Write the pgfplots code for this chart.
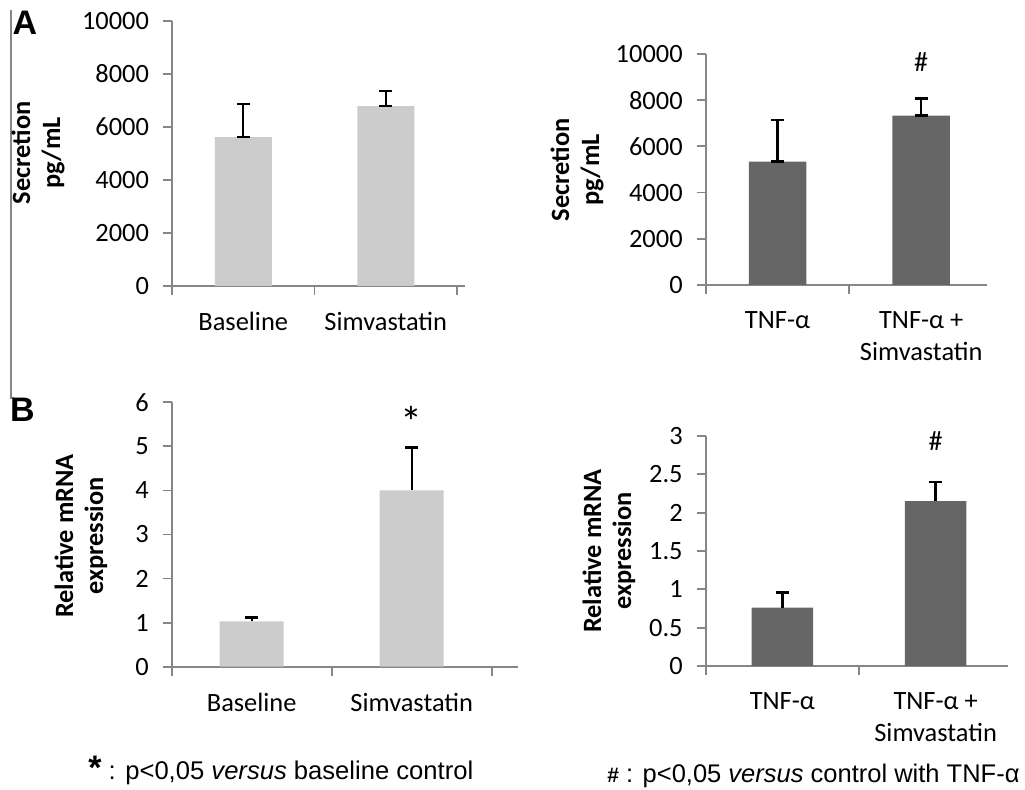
\documentclass[border=0pt]{standalone}
\usepackage{pgfplots}
\pgfplotsset{compat=1.18}
\usepackage{fontspec}
\setmainfont{Carlito}
\newfontfamily\arialfont{Liberation Sans}
\definecolor{axisgray}{HTML}{868686}
\definecolor{lightbar}{HTML}{CCCCCC}
\definecolor{darkbar}{HTML}{666666}
\pgfplotsset{
  panel/.style={
    scale only axis, anchor=south west, clip=false,
    axis x line*=bottom, axis y line*=left,
    axis line style={draw=axisgray, line width=0.9pt},
    xmin=-0.5, ymin=0,
    xtick={0,1}, minor xtick={-0.5,0.5,1.5},
    tick align=outside,
    major tick length=4.5pt, minor tick length=4.5pt,
    xtick style={draw=none},
    ytick style={draw=axisgray, line width=0.9pt},
    minor x tick style={draw=axisgray, line width=0.9pt},
    ticklabel style={font=\fontsize{13.2}{16}\selectfont},
    xticklabel style={align=center, yshift=-5pt},
    yticklabel style={xshift=-3.5pt},
    scaled y ticks=false,
    /pgf/number format/1000 sep={},
    /pgf/number format/assume math mode=true,
  },
  ebars/.style={
    error bars/.cd, y explicit,
    error bar style={line width=1.2pt, black},
    error mark=-,
    error mark options={rotate=90, mark size=3.2pt, line width=1.2pt, black},
  },
}
\begin{document}
\begin{tikzpicture}
\useasboundingbox (0,0) rectangle (512.5pt,-395pt);
% left framing line
\draw[axisgray, line width=0.6pt] (5.5pt,-5pt) -- (5.5pt,-199pt) -- (7pt,-199pt);
% panel letters
\node[font=\arialfont\bfseries\fontsize{17}{19}\selectfont] at (12.5pt,-11.5pt) {A};
\node[font=\arialfont\bfseries\fontsize{17}{19}\selectfont] at (11.2pt,-205pt) {B};

% ---------- A left
\begin{axis}[panel, at={(86pt,-143pt)}, width=146.5pt, height=132.5pt,
  xmax=1.556, ymax=10000, ytick={0,2000,4000,6000,8000,10000},
  xticklabels={Baseline,Simvastatin}]
\addplot[ybar, bar width=0.4, fill=lightbar, draw=none, ebars, y dir=both]
  table[x=x, y=y, y error plus=ep, y error minus=em] {
x y ep em
0 5620 1245 0
1 6790 566 0
};
\end{axis}
\node[rotate=90, align=center, font=\bfseries\fontsize{13.2}{15}\selectfont] at (19pt,-76.5pt) {Secretion\\pg/mL};

% ---------- A right
\begin{axis}[panel, at={(352.85pt,-142.5pt)}, width=140.65pt, height=115.5pt,
  xmax=1.458, ymax=10000, ytick={0,2000,4000,6000,8000,10000},
  xticklabels={TNF-α,TNF-α +\\Simvastatin}]
\addplot[ybar, bar width=0.4, fill=darkbar, draw=none, ebars, y dir=both]
  table[x=x, y=y, y error plus=ep, y error minus=em] {
x y ep em
0 5340 1805 0
1 7330 736 0
};
\node[font=\fontsize{14}{16}\selectfont] at (axis cs:1,9667) {\#};
\end{axis}
\node[rotate=90, align=center, font=\bfseries\fontsize{13.2}{15}\selectfont] at (288.5pt,-85pt) {Secretion\\pg/mL};

% ---------- B left
\begin{axis}[panel, at={(85.85pt,-333.35pt)}, width=173.3pt, height=132.2pt,
  xmax=1.666, ymax=6, ytick={0,1,2,3,4,5,6},
  xticklabels={Baseline,Simvastatin}]
\addplot[ybar, bar width=0.4, fill=lightbar, draw=none, ebars, y dir=plus]
  table[x=x, y=y, y error plus=ep] {
x y ep
0 1.03 0.09
1 4.00 0.97
};
\node[font=\fontsize{22}{24}\selectfont] at (axis cs:1,5.55) {*};
\end{axis}
\node[rotate=90, align=center, font=\bfseries\fontsize{13.2}{15}\selectfont] at (40.5pt,-268pt) {Relative mRNA\\expression};

% ---------- B right
\begin{axis}[panel, at={(352.85pt,-333pt)}, width=151.3pt, height=115pt,
  xmax=1.474, ymax=3, ytick={0,0.5,1,1.5,2,2.5,3},
  xticklabels={TNF-α,TNF-α +\\Simvastatin}]
\addplot[ybar, bar width=0.4, fill=darkbar, draw=none, ebars, y dir=plus]
  table[x=x, y=y, y error plus=ep] {
x y ep
0 0.76 0.20
1 2.15 0.25
};
\node[font=\fontsize{14}{16}\selectfont] at (axis cs:1,2.93) {\#};
\end{axis}
\node[rotate=90, align=center, font=\bfseries\fontsize{13.2}{15}\selectfont] at (304.5pt,-275.5pt) {Relative mRNA\\expression};

% footnotes
\node[anchor=base west, inner sep=0pt, font=\arialfont\fontsize{12.8}{14}\selectfont] at (44pt,-390pt) {{\fontsize{17}{18}\selectfont\textbf{*}} : p<0,05 \textit{versus} baseline control};
\node[anchor=base west, inner sep=0pt, font=\arialfont\fontsize{12.75}{14}\selectfont] at (303.5pt,-391.5pt) {{\fontsize{10.5}{12}\selectfont\textbf{\#}} : p<0,05 \textit{versus} control with TNF-α};
\end{tikzpicture}
\end{document}
